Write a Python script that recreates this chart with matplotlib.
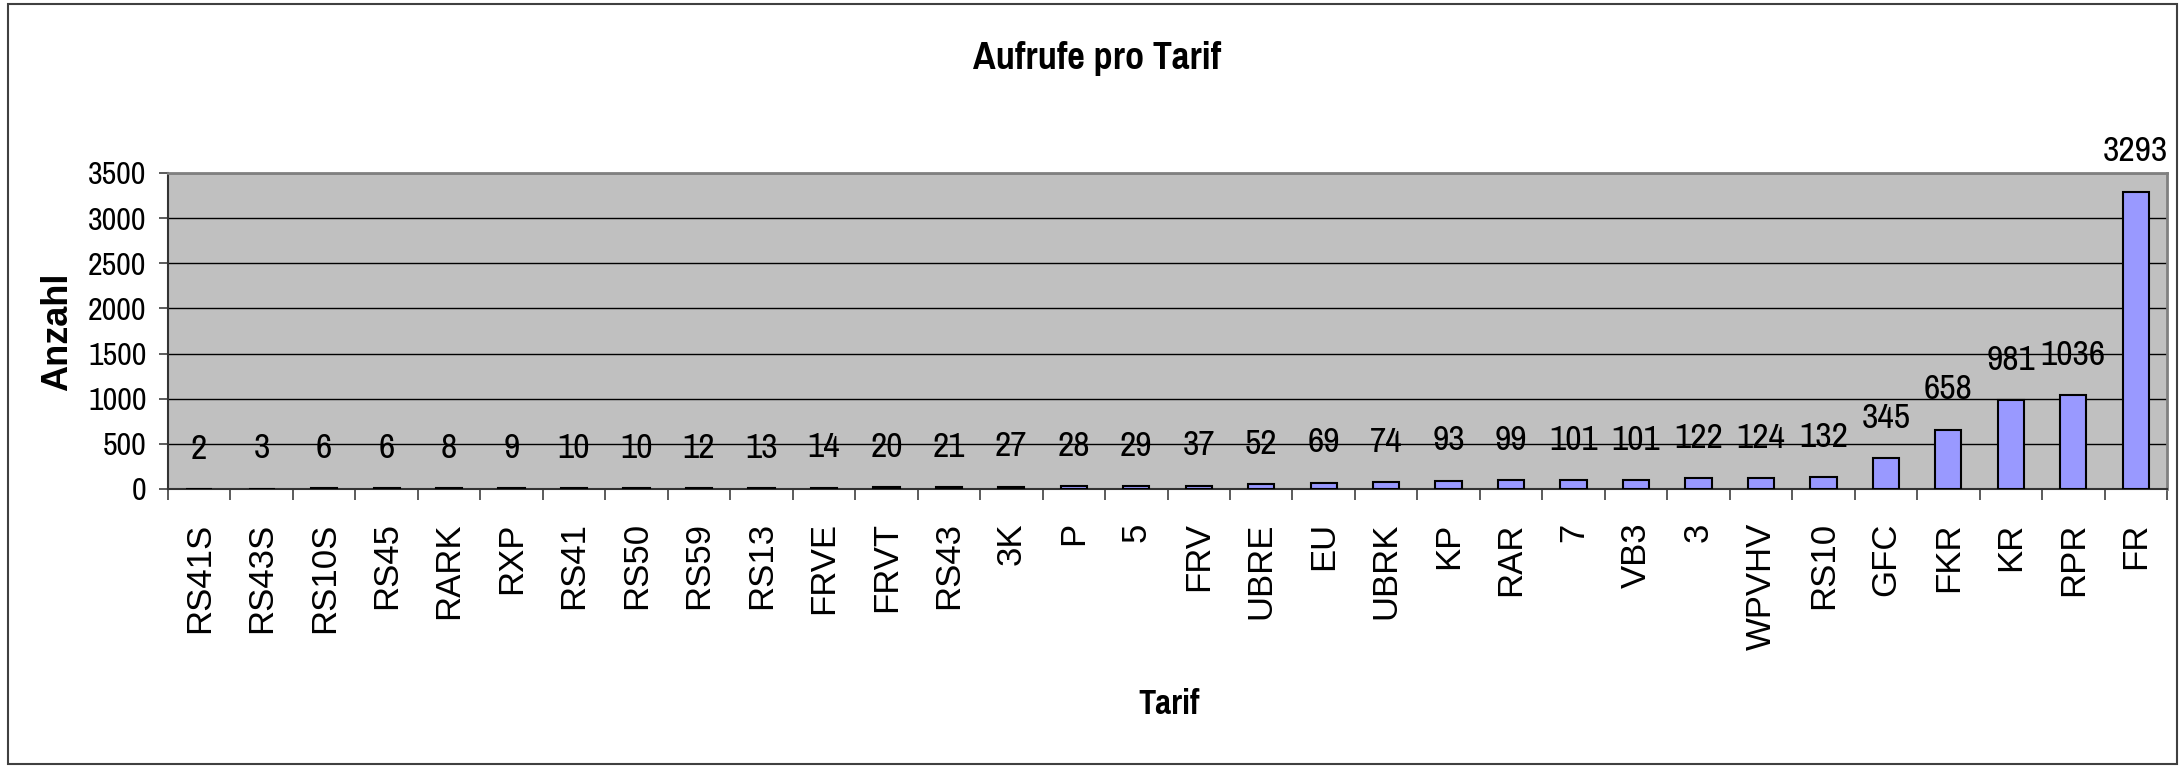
import matplotlib

matplotlib.use("Agg")
import matplotlib.pyplot as plt
from matplotlib.patches import Rectangle
from matplotlib.ticker import FixedLocator

# Aufrufe pro Tarif
tarife = ["RS41S", "RS43S", "RS10S", "RS45", "RARK", "RXP", "RS41", "RS50",
          "RS59", "RS13", "FRVE", "FRVT", "RS43", "3K", "P", "5", "FRV",
          "UBRE", "EU", "UBRK", "KP", "RAR", "7", "VB3", "3", "WPVHV", "RS10",
          "GFC", "FKR", "KR", "RPR", "FR"]
anzahl = [2, 3, 6, 6, 8, 9, 10, 10, 12, 13, 14, 20, 21, 27, 28, 29, 37, 52,
          69, 74, 93, 99, 101, 101, 122, 124, 132, 345, 658, 981, 1036, 3293]
y_ticks = [0, 500, 1000, 1500, 2000, 2500, 3000, 3500]

# schmale Schrift statt Arial Narrow
NARROW = ["Pragati Narrow", "Roboto Condensed", "DejaVu Sans"]
REGULAR = ["Liberation Sans", "DejaVu Sans"]

W, H = 2181, 766
fig = plt.figure(figsize=(W / 100, H / 100), dpi=100)

# Rahmen um das ganze Diagramm
fig.patches.append(Rectangle((8 / W, 1 - 764 / H), (2177 - 8) / W, (764 - 4) / H,
                             transform=fig.transFigure, fill=False,
                             edgecolor="#404040", linewidth=1.5))

ax = fig.add_axes([168 / W, 1 - 489 / H, (2167 - 168) / W, (489 - 173) / H])
ax.set_facecolor("#C0C0C0")

x = list(range(len(tarife)))
ax.bar(x, anzahl, width=0.42, color="#9999FF", edgecolor="black",
       linewidth=1.5, zorder=3)

for xi, v in zip(x, anzahl):
    ax.annotate(str(v), (xi, v), xytext=(0, 29), textcoords="offset points",
                ha="center", va="center", fontsize=28, family=NARROW,
                annotation_clip=False)

ax.set_xlim(-0.5, len(tarife) - 0.5)
ax.set_ylim(0, 3500)
ax.set_yticks(y_ticks)
ax.set_yticklabels([str(t) for t in y_ticks], family=NARROW, fontsize=25)
ax.yaxis.grid(True, color="black", linewidth=1.0)
ax.set_axisbelow(True)

ax.set_xticks(x)
ax.set_xticklabels(tarife, rotation=90, family=REGULAR, fontsize=25)
ax.xaxis.set_minor_locator(FixedLocator([i + 0.5 for i in range(-1, len(tarife))]))
ax.tick_params(axis="x", which="major", length=0, pad=24)
ax.tick_params(axis="x", which="minor", length=8, width=1.2, color="#404040")
ax.tick_params(axis="y", length=6.5, width=1.2, color="#404040", pad=9)

for side in ("left", "bottom"):
    ax.spines[side].set_color("#333333")
    ax.spines[side].set_linewidth(1.5)
for side in ("top", "right"):
    ax.spines[side].set_color("#808080")
    ax.spines[side].set_linewidth(2)

fig.text(1097 / W, 1 - 58 / H, "Aufrufe pro Tarif", ha="center", va="center",
         fontsize=30, fontweight="bold", family=NARROW)
fig.text(1169 / W, 1 - 704 / H, "Tarif", ha="center", va="center",
         fontsize=27, fontweight="bold", family=NARROW)
fig.text(58 / W, 1 - 332 / H, "Anzahl", ha="center", va="center",
         rotation=90, fontsize=26, fontweight="bold", family=REGULAR)

fig.savefig("out.png", dpi=100)
